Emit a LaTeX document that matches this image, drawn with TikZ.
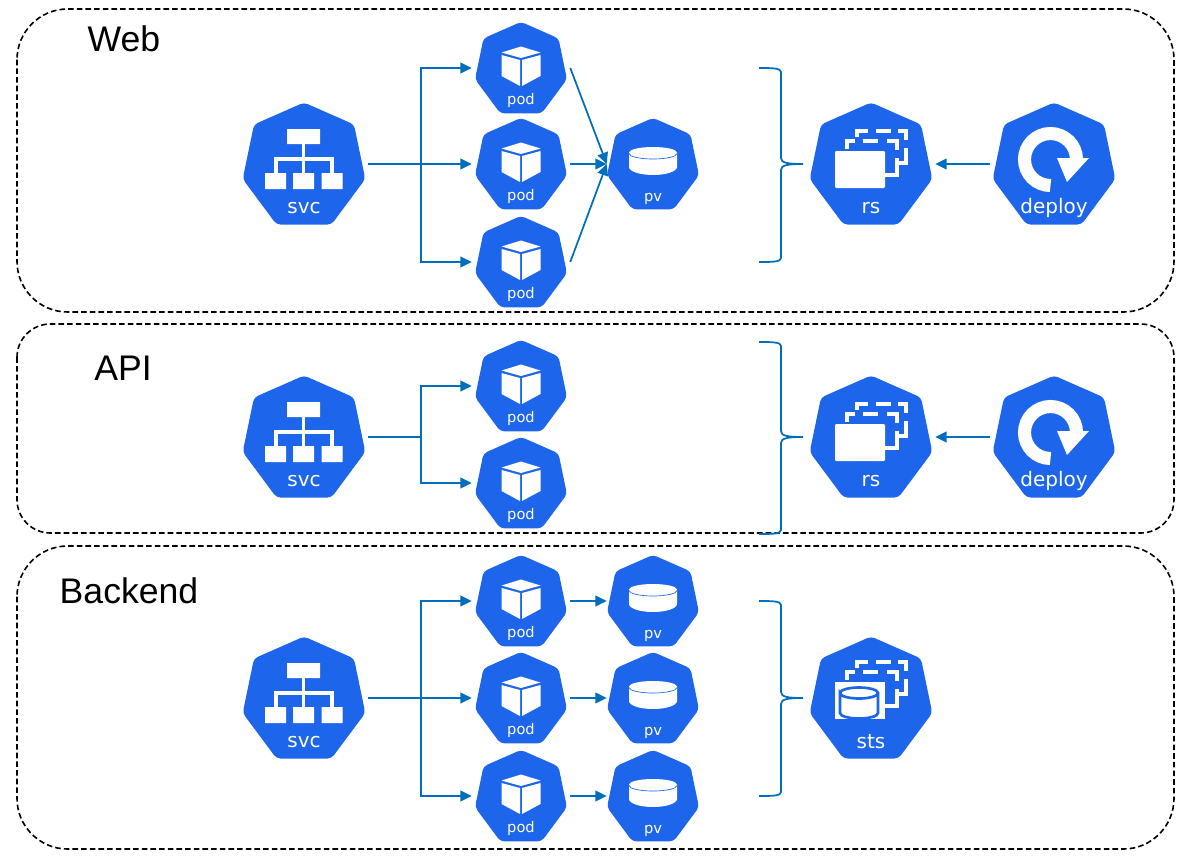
\documentclass[tikz,border=0pt]{standalone}
\usepackage{fontspec}
\setmainfont{Liberation Sans}
\newfontfamily\kubefont{DejaVu Sans}
\usepackage{xcolor}
\usetikzlibrary{arrows.meta}
\definecolor{kubeblue}{HTML}{1D66EB}
\definecolor{linkblue}{HTML}{006EBC}
\tikzstyle{zone}=[draw=black, line width=1.2pt, dash pattern=on 4.2pt off 2.3pt]
\tikzstyle{zonetext}=[font=\fontsize{26.7}{30}\selectfont, inner sep=0pt]
\tikzstyle{link}=[draw=linkblue, line width=1.3pt, -{Triangle[length=8.5pt,width=8pt]}]
\tikzstyle{bracket}=[draw=linkblue, line width=1.3pt]
\tikzstyle{bigbox}=[inner sep=0pt, minimum width=96pt, minimum height=96pt]
\tikzstyle{podbox}=[inner sep=0pt, minimum width=73.5pt, minimum height=70pt]
\tikzstyle{pvbox}=[inner sep=0pt, minimum width=69pt, minimum height=70pt]
\tikzstyle{bigtext}=[text=white, inner sep=0pt, font=\kubefont\fontsize{15}{17}\selectfont, yshift=-33pt]
\tikzstyle{smalltext}=[text=white, inner sep=0pt, font=\kubefont\fontsize{11}{13}\selectfont, yshift=-24.3pt]
\tikzstyle{pvtext}=[smalltext, yshift=-1.7pt]
\tikzset{
  kubeshape/.pic={\fill[kubeblue, rounded corners=3pt] (0,-61.5) -- (50,-39.5) -- (61.3,15) -- (27.5,60.5)
    -- (-27.5,60.5) -- (-61.3,15) -- (-50,-39.5) -- cycle;},
  stackicon/.pic={
    \draw[white, line width=3pt] (-14,-27) -- (-14,-33) -- (-3,-33) (5,-33) -- (20,-33) (27,-33) -- (35,-33) -- (35,-24)
      (35,-16) -- (35,-1) -- (26,-1) (-24,-15) -- (-24,-23) -- (-16,-23) (-8,-23) -- (7,-23) (16,-23) -- (26,-23) -- (26,-14)
      (26,-6) -- (26,11) -- (14,11);},
  svcicon/.pic={
    \fill[white] (-17,-35) rectangle (16,-20) (-39,9) rectangle (-18,25) (-11,9) rectangle (10,25) (17.5,9) rectangle (38.5,25);
    \draw[white, line width=2.6pt] (-0.5,-20) -- (-0.5,9) (-28,9) -- (-28,-5) -- (28,-5) -- (28,9);},
  podicon/.pic={
    \fill[white] (0,-21.5) -- (19.5,-15.5) -- (0,-10) -- (-19.5,-15.5) -- cycle
      (-19.5,-13) -- (-1,-8) -- (-1,18) -- (-19.5,8) -- cycle (19.5,-13) -- (1,-8) -- (1,18) -- (19.5,8) -- cycle;},
  pvicon/.pic={
    \fill[white] (-24,-11.5) arc[start angle=180, end angle=360, x radius=24, y radius=5.5] -- (24,3)
      arc[start angle=0, end angle=180, x radius=24, y radius=8] -- cycle;
    \draw[kubeblue, line width=0.5pt] (-24,-10.5) arc[start angle=180, end angle=0, x radius=24, y radius=5.5];},
  deployicon/.pic={
    \draw[white, line width=9.8pt] (-3.5,21.5) arc[start angle=90, end angle=360, radius=26];
    \fill[white] (3,-6) -- (35,-6) -- (13,18) -- cycle;},
  stsicon/.pic={
    \fill[white] (-36,-16) rectangle (14,21);
    \draw[kubeblue, line width=2pt] (-31,-5) arc[start angle=180, end angle=540, x radius=19, y radius=5.5]
      -- (-31,15) arc[start angle=180, end angle=0, x radius=19, y radius=5.5] -- (7,-5);}
}

\begin{document}
\begin{tikzpicture}[x=0.75pt, y=-0.75pt]
    \useasboundingbox (0,0) rectangle (1190,858);
    % the three zones
    \draw[zone, rounded corners=38pt] (17,9) rectangle (1174,312);
    \draw[zone, rounded corners=25pt] (17,324) rectangle (1174,533);
    \draw[zone, rounded corners=38pt] (17,546) rectangle (1174,849);
    \node[zonetext] (web) at (124,39) {Web};
    \node[zonetext] (api) at (123,368) {API};
    \node[zonetext] (backend) at (129,591) {Backend};
    % services
    \foreach \n/\y in {web/164,api/437,back/698} {
        \pic at (304,\y) {kubeshape}; \pic at (304,\y) {svcicon};
        \node[bigbox, label={[bigtext, name=svclabel\n]center:svc}] (svc\n) at (304,\y) {};
    }
    % pods
    \foreach \n/\y in {a/68,b/164,c/262,d/386,e/483,f/601,g/698,h/796} {
        \pic[scale=0.75] at (521,\y) {kubeshape}; \pic at (521,\y) {podicon};
        \node[podbox, label={[smalltext, name=podlabel\n]center:pod}] (pod\n) at (521,\y) {};
    }
    % volumes
    \foreach \n/\y in {b/164,f/601,g/698,h/796} {
        \pic[scale=0.75] at (653,\y) {kubeshape}; \pic at (653,\y) {pvicon};
        \node[pvbox, label={[pvtext, name=pvlabel\n]center:pv}] (pv\n) at (653,\y) {};
    }
    % replica sets and deployments
    \foreach \n/\y in {web/164,api/437} {
        \pic at (871,\y) {kubeshape}; \pic at (871,\y) {stackicon};
        \fill[white, rounded corners=0.8pt] (835,\y-13) rectangle (885,\y+24);
        \node[bigbox, label={[bigtext, name=rslabel\n]center:rs}] (rs\n) at (871,\y) {};
        \pic at (1054,\y) {kubeshape}; \pic at (1054,\y) {deployicon};
        \node[bigbox, label={[bigtext, name=deploylabel\n]center:deploy}] (deploy\n) at (1054,\y) {};
        \draw[link] (deploy\n) -- (rs\n);
    }
    \pic at (871,698) {kubeshape}; \pic at (871,695) {stackicon}; \pic at (871,698) {stsicon};
    \node[bigbox, label={[bigtext, name=stslabel]center:sts}] (sts) at (871,698) {};
    % service to pods
    \draw[link] (svcweb.east) -- ++(53,0) |- (poda.west);
    \draw[link] (svcweb.east) -- (podb.west);
    \draw[link] (svcweb.east) -- ++(53,0) |- (podc.west);
    \draw[link] (svcapi.east) -- ++(53,0) |- (podd.west);
    \draw[link] (svcapi.east) -- ++(53,0) |- (pode.west);
    \draw[link] (svcback.east) -- ++(53,0) |- (podf.west);
    \draw[link] (svcback.east) -- (podg.west);
    \draw[link] (svcback.east) -- ++(53,0) |- (podh.west);
    % pods to volumes
    \foreach \p in {a,b,c} { \draw[link] (pod\p.east) -- (pvb.west); }
    \foreach \p in {f,g,h} { \draw[link] (pod\p.east) -- (pv\p.west); }
    % brackets
    \foreach \t/\m/\b in {68/164/262,342/437/534,601/698/796} {
        \draw[bracket] (759,\t) .. controls (772,\t) and (781,\t) .. (781,\t+4) -- (781,\m-6)
            .. controls (781,\m-1) and (788,\m) .. (803,\m) .. controls (788,\m) and (781,\m+1) .. (781,\m+6)
            -- (781,\b-4) .. controls (781,\b) and (772,\b) .. (759,\b);
    }
\end{tikzpicture}
\end{document}
